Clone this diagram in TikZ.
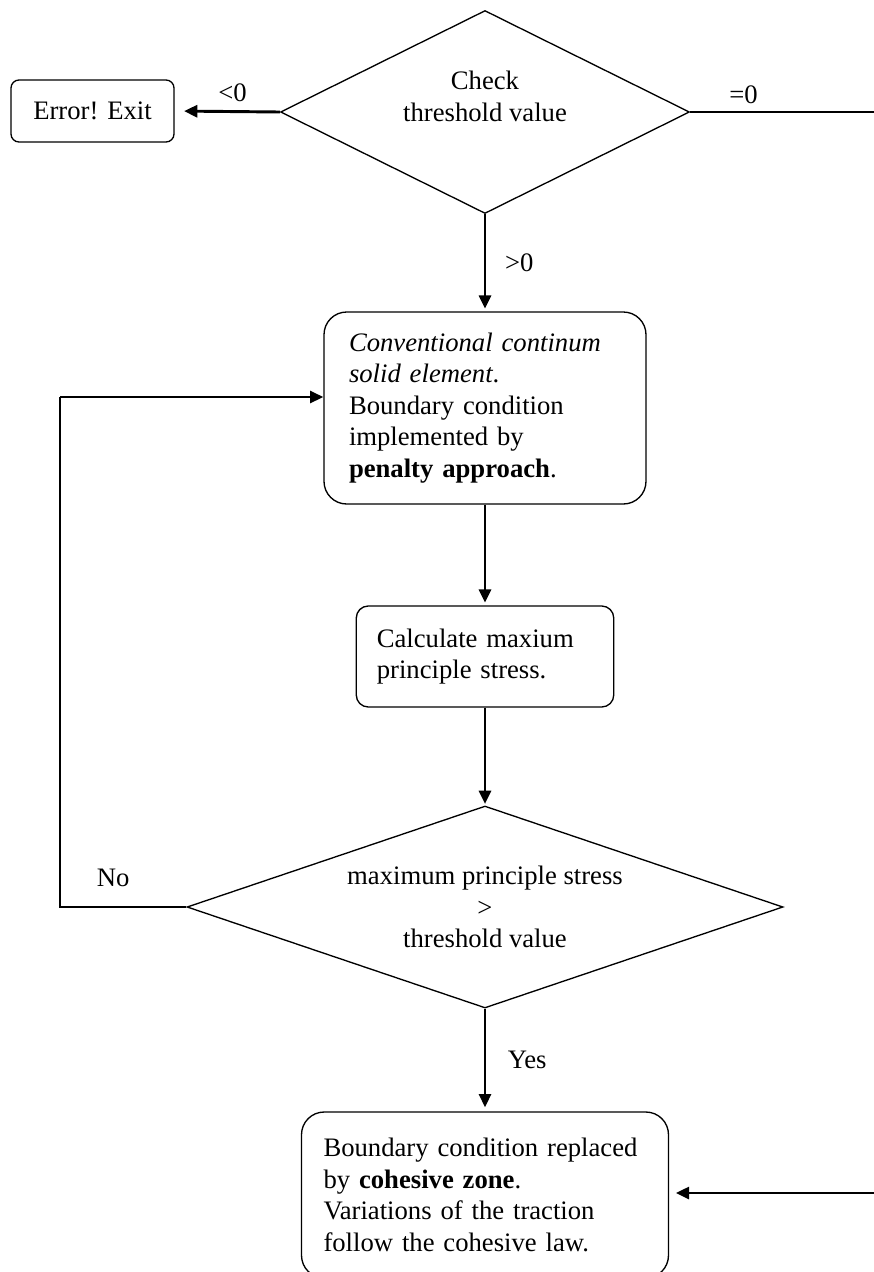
\documentclass[tikz,border=0pt]{standalone}
\usepackage{fontspec}
\setmainfont{Liberation Serif}
\usetikzlibrary{shapes.geometric,arrows.meta}

\tikzset{every picture/.style={line width=1pt}}
\tikzset{
	txt/.style={font=\fontsize{20}{23.6}\selectfont},
	decide/.style={txt, draw, diamond, inner sep=0pt, align=center},
	stepbox/.style={txt, draw, rounded corners=17pt, align=left, inner ysep=0pt},
	flow/.style={line width=2.2pt, -{Triangle[length=10pt,width=9pt]}},
	lbl/.style={txt, inner sep=0pt},
}

\begin{document}
\begin{tikzpicture}[x=0.75pt,y=0.75pt,yscale=-1,xscale=1]
	\useasboundingbox (0,0) rectangle (874,1272);
	%Decision [id:chk] 
	\node [decide, minimum width=306.75pt, minimum height=152.25pt, aspect=2] (chk) at (485,112) {Check\\threshold value\\\mbox{}};
	%Box [id:err] 
	\node [stepbox, rounded corners=6pt, minimum width=122.25pt, minimum height=46.5pt, inner xsep=0pt] (err) at (92.5,111) {Error! Exit};
	%Box [id:pen] 
	\node [stepbox, text width=204pt, inner xsep=18.75pt, minimum height=144pt] (pen) at (485,408) {\textit{Conventional continum}\\\textit{solid element}.\\Boundary condition\\implemented by\\\textbf{penalty approach}.};
	%Box [id:calc] 
	\node [stepbox, rounded corners=9pt, text width=162.3pt, inner xsep=15.4pt, minimum height=75.75pt] (calc) at (485,656.5) {Calculate maxium\\principle stress.};
	%Decision [id:cmp] 
	\node [decide, minimum width=447pt, minimum height=151.5pt, aspect=2.95] (cmp) at (485,907) {maximum principle stress\\>\\threshold value};
	%Box [id:coh] 
	\node [stepbox, text width=242.25pt, inner xsep=16.5pt, minimum height=124.5pt] (coh) at (485,1195) {Boundary condition replaced\\by \textbf{cohesive zone}.\\Variations of the traction\\follow the cohesive law.};
	
	%Straight Lines [id:ltz] 
	\draw [flow, shorten >=7pt] (chk.west) -- node [lbl, above=6pt, pos=0.45] {<0} (err.east) ;
	%Straight Lines [id:eqz] 
	\coordinate (eqend) at (874,112);
	\draw (chk.east) -- node [lbl, above=6pt, pos=0.29] {=0} (eqend) ;
	%Straight Lines [id:gtz] 
	\draw [flow, shorten >=2pt] (chk.south) -- node [lbl, right=14pt] {>0} (pen.north) ;
	%Straight Lines [id:pc] 
	\draw [flow, shorten >=2pt] (pen.south) -- (calc.north) ;
	%Straight Lines [id:cc] 
	\draw [flow, shorten >=1pt] (calc.south) -- (cmp.north) ;
	%Straight Lines [id:yes] 
	\draw [flow, shorten >=3pt] (cmp.south) -- node [lbl, right=16pt] {Yes} (coh.north) ;
	%Straight Lines [id:no] 
	\coordinate (looptop) at (60,397);
	\draw (cmp.west) -- node [lbl, above=15pt, pos=0.58] {No} (cmp.west -| looptop) -- (looptop) ;
	\draw [flow] (looptop) -- (looptop -| pen.west) ;
	%Straight Lines [id:in] 
	\coordinate (cohin) at (874,1193);
	\draw [flow, shorten >=5pt] (cohin) -- (cohin -| coh.east) ;
\end{tikzpicture}
\end{document}
